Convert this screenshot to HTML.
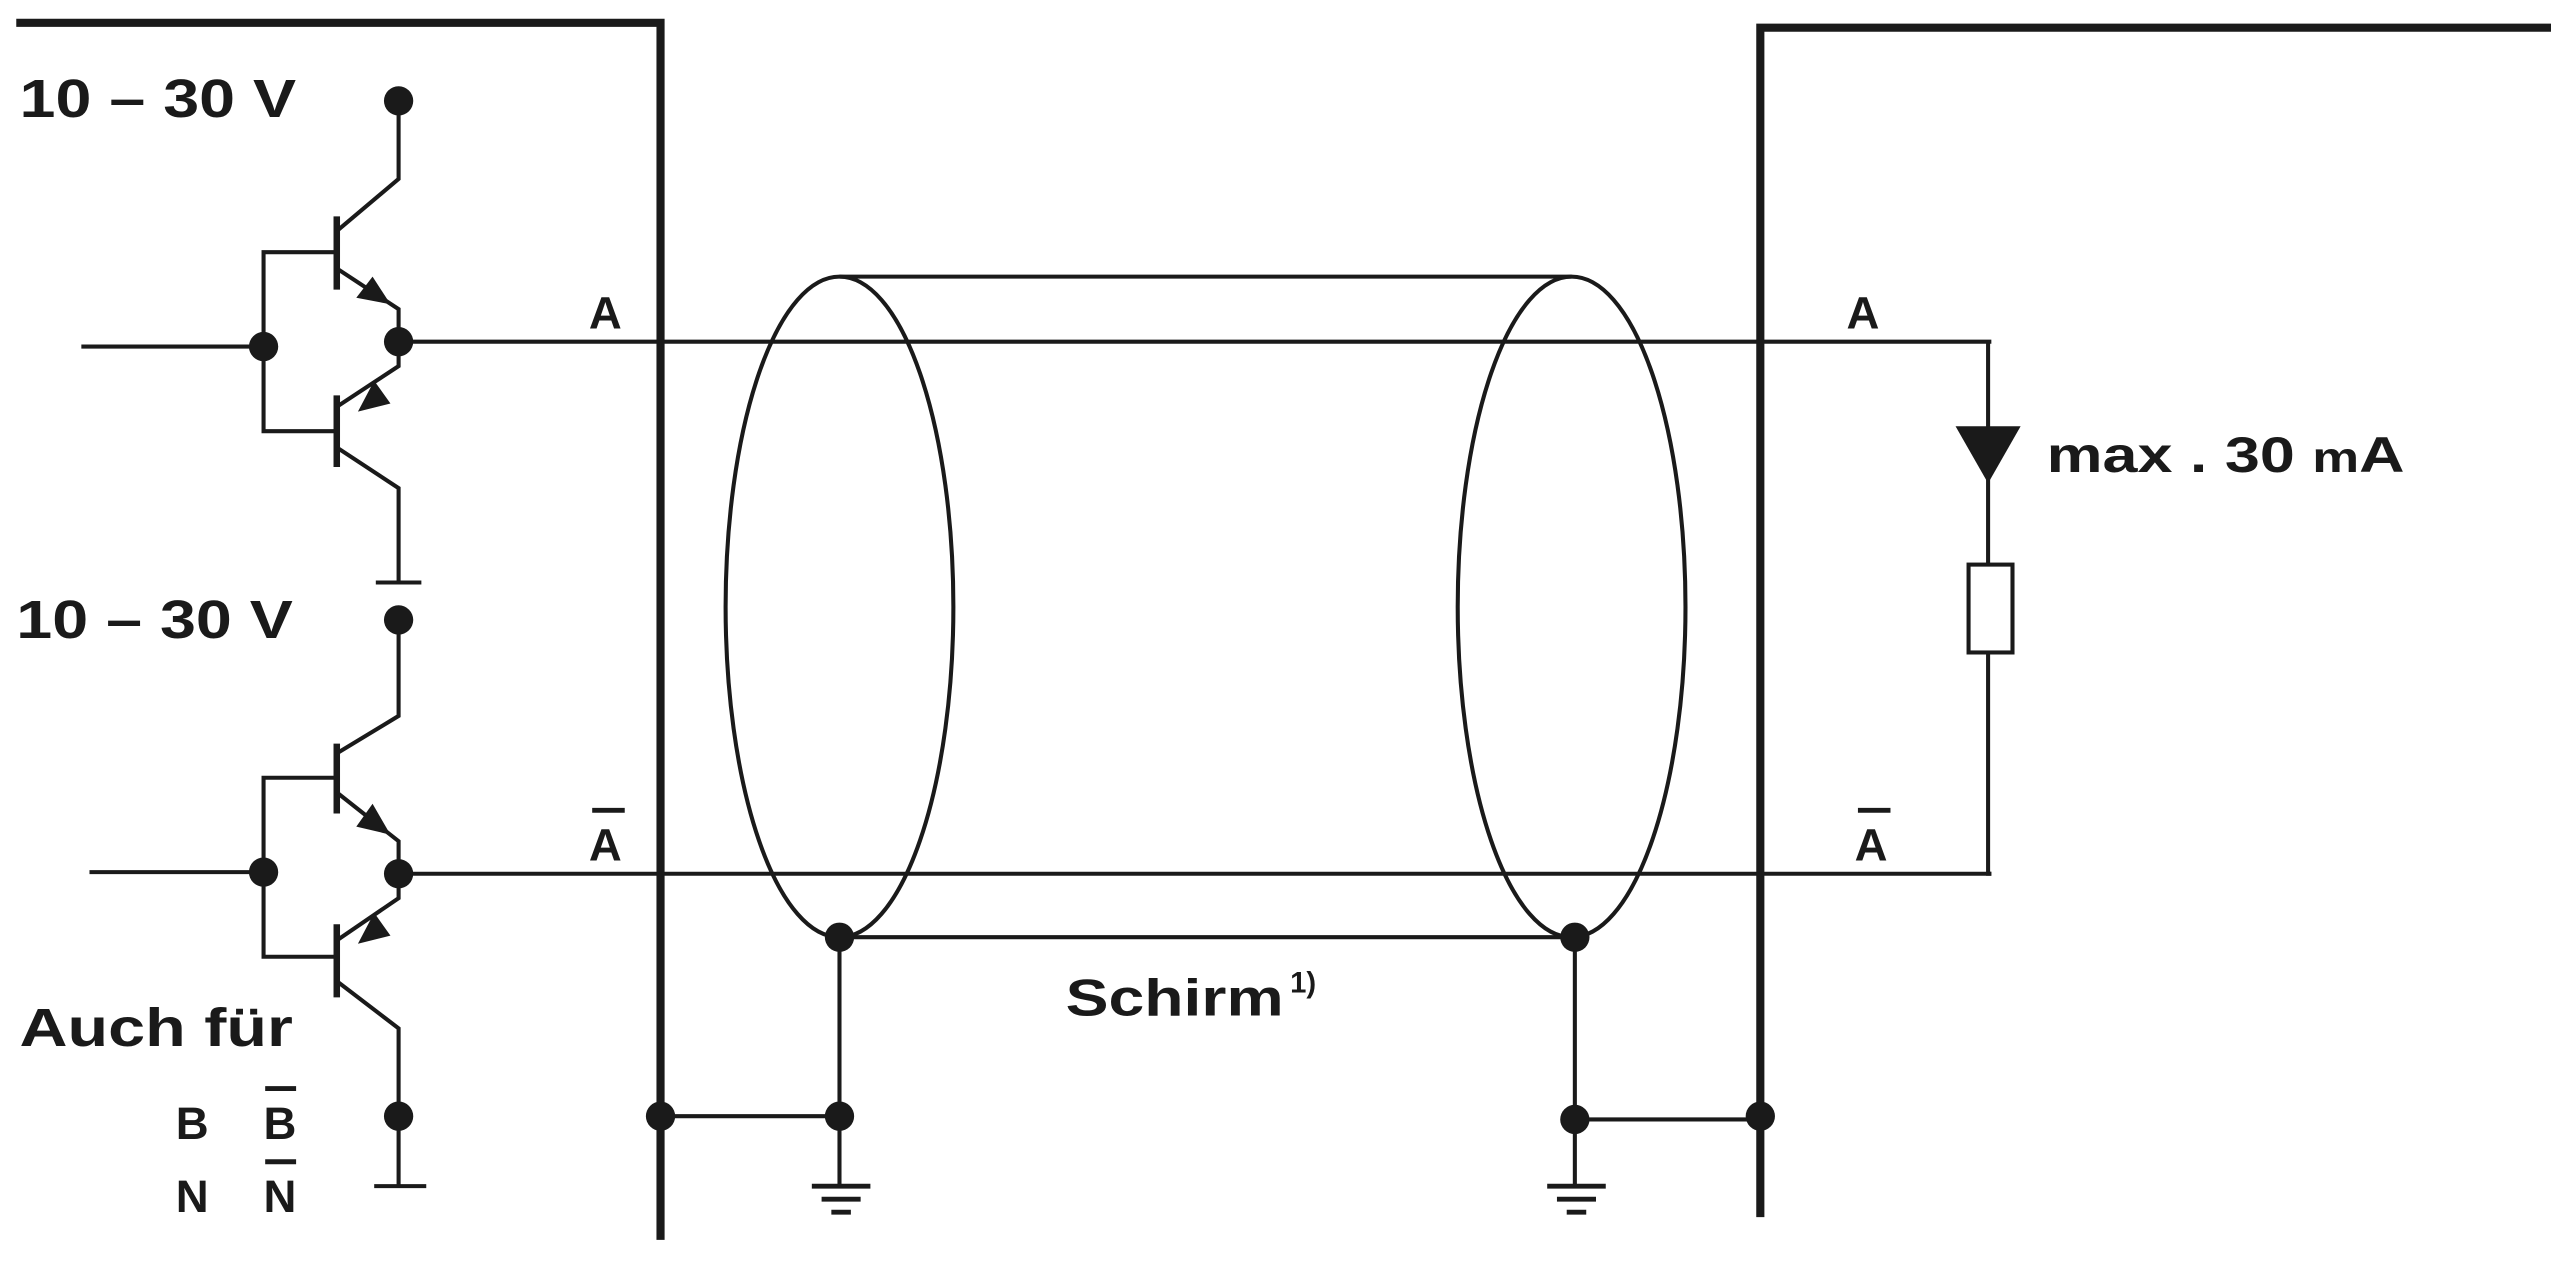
<!DOCTYPE html>
<html><head><meta charset="utf-8"><style>
html,body{margin:0;padding:0;background:#fff;width:2551px;height:1261px;overflow:hidden}
svg{display:block}
text{font-family:"Liberation Sans",sans-serif;font-weight:bold;fill:#1a1a1a}
</style></head><body>
<svg width="2551" height="1261" viewBox="0 0 1568 775" preserveAspectRatio="none" xmlns="http://www.w3.org/2000/svg">
<g stroke="#1a1a1a" fill="none" stroke-width="2.5">
<polyline points="10,14 406,14 406,762" stroke-width="5"/>
<polyline points="1568,17 1082,17 1082,748" stroke-width="5"/>
<line x1="245" y1="210" x2="1224" y2="210"/>
<line x1="245" y1="537" x2="1224" y2="537"/>
<polyline points="1222,210 1222,347"/>
<rect x="1210" y="347" width="27" height="54"/>
<polyline points="1222,401 1222,537 1224,537"/>
<line x1="50" y1="213" x2="162" y2="213"/>
<line x1="55" y1="536" x2="162" y2="536"/>
<polyline points="207,155 162,155 162,265 207,265"/>
<line x1="207" y1="133" x2="207" y2="178" stroke-width="4"/>
<line x1="207" y1="243" x2="207" y2="287" stroke-width="4"/>
<polyline points="245,62 245,110 207,142"/>
<polyline points="207,165 245,190 245,225 207,250"/>
<polyline points="207,275 245,300 245,357"/>
<line x1="231" y1="358" x2="259" y2="358"/>
<polyline points="245,381 245,440 207,463"/>
<polyline points="207,478 162,478 162,588 207,588"/>
<line x1="207" y1="457" x2="207" y2="500" stroke-width="4"/>
<line x1="207" y1="568" x2="207" y2="613" stroke-width="4"/>
<polyline points="207,487 245,517 245,552 207,578"/>
<polyline points="207,603 245,632 245,729"/>
<line x1="230" y1="729" x2="262" y2="729"/>
<ellipse cx="516" cy="373" rx="70" ry="203"/>
<ellipse cx="966" cy="373" rx="70" ry="203"/>
<line x1="516" y1="170" x2="966" y2="170"/>
<line x1="516" y1="576" x2="968" y2="576"/>
<line x1="516" y1="576" x2="516" y2="728"/>
<line x1="406" y1="686" x2="516" y2="686"/>
<line x1="968" y1="576" x2="968" y2="728"/>
<line x1="968" y1="688" x2="1082" y2="688"/>
<line x1="499" y1="729" x2="535" y2="729" stroke-width="3"/>
<line x1="505" y1="737" x2="529" y2="737" stroke-width="3"/>
<line x1="511" y1="745" x2="523" y2="745" stroke-width="3"/>
<line x1="951" y1="729" x2="987" y2="729" stroke-width="3"/>
<line x1="957" y1="737" x2="981" y2="737" stroke-width="3"/>
<line x1="963" y1="745" x2="975" y2="745" stroke-width="3"/>
</g>
<g fill="#1a1a1a">
<polygon points="1202,262 1242,262 1222,297"/>
<polygon points="240,187 219,183 229,170"/>
<polygon points="220,253 240,248 230,234"/>
<polygon points="240,513 219,508 229,494"/>
<polygon points="220,580 240,575 230,561"/>
<circle cx="245" cy="62" r="9"/>
<circle cx="162" cy="213" r="9"/>
<circle cx="245" cy="210" r="9"/>
<circle cx="245" cy="381" r="9"/>
<circle cx="162" cy="536" r="9"/>
<circle cx="245" cy="537" r="9"/>
<circle cx="245" cy="686" r="9"/>
<circle cx="406" cy="686" r="9"/>
<circle cx="516" cy="686" r="9"/>
<circle cx="516" cy="576" r="9"/>
<circle cx="968" cy="576" r="9"/>
<circle cx="968" cy="688" r="9"/>
<circle cx="1082" cy="686" r="9"/>
</g>
<text x="12" y="72" font-size="33" textLength="170" lengthAdjust="spacingAndGlyphs">10 – 30 V</text>
<text x="10" y="392" font-size="33" textLength="170" lengthAdjust="spacingAndGlyphs">10 – 30 V</text>
<text x="362" y="202" font-size="28">A</text>
<text x="362" y="529" font-size="28">A</text>
<line x1="364" y1="498" x2="384" y2="498" stroke="#1a1a1a" stroke-width="3"/>
<text x="1135" y="202" font-size="28">A</text>
<text x="1140" y="529" font-size="28">A</text>
<line x1="1142" y1="498" x2="1162" y2="498" stroke="#1a1a1a" stroke-width="3"/>
<text x="1258" y="290" font-size="31" textLength="220" lengthAdjust="spacingAndGlyphs">max . 30 <tspan font-size="26">m</tspan>A</text>
<text x="12" y="643" font-size="33" textLength="168" lengthAdjust="spacingAndGlyphs">Auch für</text>
<text x="108" y="700" font-size="28">B</text>
<text x="162" y="700" font-size="28">B</text>
<line x1="163" y1="669" x2="182" y2="669" stroke="#1a1a1a" stroke-width="3"/>
<text x="108" y="745" font-size="28">N</text>
<text x="162" y="745" font-size="28">N</text>
<line x1="163" y1="714" x2="182" y2="714" stroke="#1a1a1a" stroke-width="3"/>
<text x="655" y="624" font-size="32" textLength="134" lengthAdjust="spacingAndGlyphs">Schirm</text>
<text x="793" y="610" font-size="18">1)</text>
</svg>
</body></html>
